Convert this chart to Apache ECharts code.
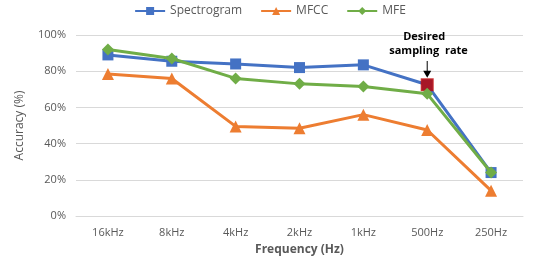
<!DOCTYPE html>
<html>
<head>
<meta charset="utf-8">
<script src="https://cdn.jsdelivr.net/npm/echarts@6/dist/echarts.min.js"></script>
<style>
  html, body { margin: 0; padding: 0; background: #fff; }
  #chart { width: 540px; height: 268px; }
</style>
</head>
<body>
<div id="chart"></div>
<script>
// 采样率
const categories = ["16kHz", "8kHz", "4kHz", "2kHz", "1kHz", "500Hz", "250Hz"];
const spectrogram = [89, 85.5, 84, 82, 83.5, 72.5, 24];
const mfcc = [78.5, 76, 49.5, 48.5, 56, 47.5, 14];
const mfe = [92, 87, 76, 73, 71.5, 67.5, 24];
const yTicks = [0, 20, 40, 60, 80, 100];
const desiredIndex = 5;

const font = "Open Sans";
const textColor = "#595959";

const myChart = echarts.init(document.getElementById("chart"));

const option = {
  animation: false,
  color: ["#4472C4", "#ED7D31", "#70AD47"],
  textStyle: { fontFamily: font },
  legend: {
    top: 0,
    left: "center",
    itemWidth: 30,
    itemHeight: 10,
    itemGap: 18,
    textStyle: { color: textColor, fontSize: 12, fontFamily: font },
    data: ["Spectrogram", "MFCC", "MFE"]
  },
  grid: { left: 76, right: 17, top: 35, bottom: 52 },
  xAxis: {
    type: "category",
    data: categories,
    boundaryGap: true,
    name: "Frequency (Hz)",
    nameLocation: "middle",
    nameGap: 28,
    nameTextStyle: { color: textColor, fontSize: 12, fontWeight: "bold", fontFamily: font },
    axisLine: { lineStyle: { color: "#d9d9d9" } },
    axisTick: { show: false },
    axisLabel: { color: textColor, fontSize: 11, margin: 11 }
  },
  yAxis: {
    type: "value",
    min: yTicks[0],
    max: yTicks[yTicks.length - 1],
    interval: 20,
    name: "Accuracy (%)",
    nameLocation: "middle",
    nameGap: 50,
    nameTextStyle: { color: textColor, fontSize: 12, fontFamily: font },
    axisLine: { show: false },
    axisTick: { show: false },
    axisLabel: { color: textColor, fontSize: 11, formatter: "{value}%", margin: 10 },
    splitLine: { lineStyle: { color: "#d9d9d9" } }
  },
  series: [
    {
      name: "Spectrogram",
      type: "line",
      data: spectrogram,
      symbol: "rect",
      symbolSize: 11,
      lineStyle: { width: 3 },
      z: 3
    },
    {
      name: "MFCC",
      type: "line",
      data: mfcc,
      symbol: "triangle",
      symbolSize: 12,
      lineStyle: { width: 3 },
      z: 2
    },
    {
      name: "MFE",
      type: "line",
      data: mfe,
      symbol: "diamond",
      symbolSize: 12,
      lineStyle: { width: 3 },
      z: 4
    },
    {
      // 标记的采样率
      name: "desired",
      type: "scatter",
      data: [[desiredIndex, spectrogram[desiredIndex]]],
      symbol: "rect",
      symbolSize: 13,
      itemStyle: { color: "#C00000" },
      z: 3
    }
  ]
};
myChart.setOption(option);

const pt = myChart.convertToPixel({ gridIndex: 0 }, [desiredIndex, spectrogram[desiredIndex]]);
myChart.setOption({
  graphic: [
    {
      type: "text",
      left: pt[0] - 24,
      top: 31,
      style: { text: "Desired", font: "bold 11px " + font, fill: "#000" }
    },
    {
      type: "text",
      left: pt[0] - 38,
      top: 45,
      style: { text: "sampling  rate", font: "bold 11px " + font, fill: "#000" }
    },
    {
      type: "line",
      shape: { x1: pt[0], y1: 61, x2: pt[0], y2: pt[1] - 10 },
      style: { stroke: "#000", lineWidth: 1 }
    },
    {
      type: "polygon",
      shape: { points: [[pt[0] - 4, pt[1] - 14], [pt[0] + 4, pt[1] - 14], [pt[0], pt[1] - 7]] },
      style: { fill: "#000" }
    }
  ]
});
</script>
</body>
</html>
